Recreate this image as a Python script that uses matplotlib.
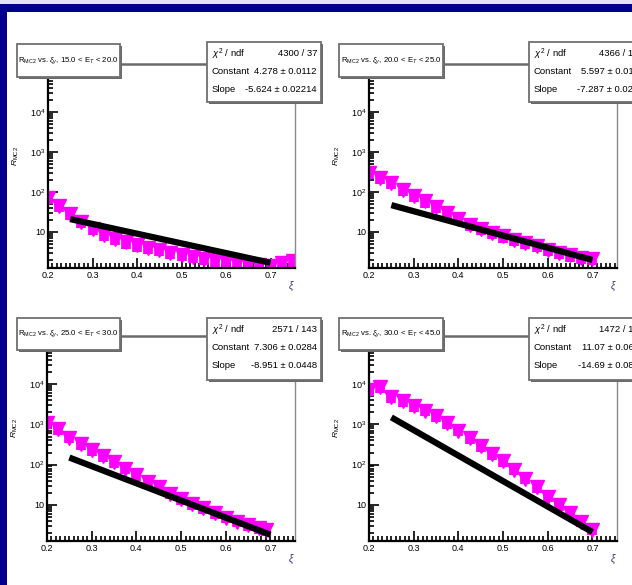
import math
import matplotlib
matplotlib.use("Agg")
import matplotlib.pyplot as plt
from matplotlib.patches import Rectangle
from matplotlib.ticker import LogLocator, MultipleLocator, FuncFormatter, NullFormatter

W, H = 632, 585

# ---- data ----
xi_1 = [0.200, 0.225, 0.250, 0.275, 0.300, 0.325, 0.350, 0.375, 0.400, 0.425, 0.450, 0.475,
        0.500, 0.525, 0.550, 0.575, 0.600, 0.625, 0.650, 0.675, 0.700, 0.725, 0.750]
r_1 = [70, 45, 28, 18, 12, 8.5, 6.6, 5.5, 4.6, 4.0, 3.5, 3.0,
       2.7, 2.4, 2.15, 1.95, 1.8, 1.65, 1.55, 1.5, 1.45, 1.7, 1.9]

xi_2 = [0.200, 0.225, 0.250, 0.275, 0.300, 0.325, 0.350, 0.375, 0.400, 0.425, 0.450, 0.475,
        0.500, 0.525, 0.550, 0.575, 0.600, 0.625, 0.650, 0.675, 0.700]
r_2 = [300, 230, 170, 115, 80, 58, 42, 30, 21, 15, 12, 9.5,
       7.8, 6.4, 5.3, 4.4, 3.6, 3.0, 2.6, 2.3, 2.1]

xi_3 = [0.200, 0.225, 0.250, 0.275, 0.300, 0.325, 0.350, 0.375, 0.400, 0.425, 0.450, 0.475,
        0.500, 0.525, 0.550, 0.575, 0.600, 0.625, 0.650, 0.675, 0.690]
r_3 = [1100, 750, 470, 330, 230, 165, 115, 80, 55, 38, 27, 19,
       14, 10.5, 8.2, 6.3, 4.8, 3.8, 3.1, 2.6, 2.3]

xi_4 = [0.200, 0.225, 0.250, 0.275, 0.300, 0.325, 0.350, 0.375, 0.400, 0.425, 0.450, 0.475,
        0.500, 0.525, 0.550, 0.575, 0.600, 0.625, 0.650, 0.675, 0.700]
r_4 = [7000, 8500, 4800, 3800, 2900, 2200, 1600, 1100, 700, 450, 290, 185,
       120, 75, 45, 27, 16, 10, 6.2, 3.8, 2.4]

fit_x = [0.25, 0.70]
fit_1 = [21, 1.7]
fit_2 = [47, 2.0]
fit_3 = [150, 1.8]
fit_4 = [1500, 2.1]

rel_err = [0.3, 0.3, 0.28, 0.28]

et_bins = ["15.0 < E$_{T}$ < 20.0", "20.0 < E$_{T}$ < 25.0",
           "25.0 < E$_{T}$ < 30.0", "30.0 < E$_{T}$ < 45.0"]
chi2_txt = ["4300 / 37", "4366 / 137", "2571 / 143", "1472 / 137"]
const_txt = ["4.278 \u00b1 0.0112", "5.597 \u00b1 0.0175", "7.306 \u00b1 0.0284", "11.07 \u00b1 0.0638"]
slope_txt = ["-5.624 \u00b1 0.02214", "-7.287 \u00b1 0.0277", "-8.951 \u00b1 0.0448", "-14.69 \u00b1 0.0838"]

# ---- style ----
plt.rcParams["font.family"] = ["Liberation Sans", "DejaVu Sans"]
plt.rcParams["mathtext.fontset"] = "custom"
plt.rcParams["mathtext.rm"] = "Liberation Sans"
plt.rcParams["mathtext.it"] = "Liberation Sans:italic"

navy = "#00008c"
magenta = "#ff00ff"

fig = plt.figure(figsize=(W / 100, H / 100), dpi=100)
fig.patch.set_facecolor("white")


def rect_px(l, t, r, b):
    return [l / W, 1 - b / H, (r - l) / W, (b - t) / H]


def box_px(l, t, r, b):
    # ROOT-like pave with a small shadow
    fig.add_artist(Rectangle(((l + 2) / W, 1 - (b + 2) / H), (r - l) / W, (b - t) / H,
                             transform=fig.transFigure, fc="#6a6a6a", ec="none", zorder=4))
    fig.add_artist(Rectangle((l / W, 1 - b / H), (r - l) / W, (b - t) / H,
                             transform=fig.transFigure, fc="white", ec="#707070",
                             lw=1.3, zorder=5))


def ytick_fmt(v, pos):
    e = int(round(math.log10(v)))
    return "10" if e == 1 else r"$10^{%d}$" % e


panels = [
    (rect_px(48, 64, 295, 268), xi_1, r_1, fit_1),
    (rect_px(369, 64, 617, 268), xi_2, r_2, fit_2),
    (rect_px(47, 336, 295, 541), xi_3, r_3, fit_3),
    (rect_px(369, 336, 617, 541), xi_4, r_4, fit_4),
]

for i, (pos, xs, ys, fy) in enumerate(panels):
    ax = fig.add_axes(pos)
    ax.set_yscale("log")
    ax.set_xlim(0.2, 0.755)
    ax.set_ylim(10 ** 0.1, 10 ** 5.2)
    err_lo = [v * rel_err[i] for v in ys]
    err_hi = [v * rel_err[i] * 1.3 for v in ys]
    ax.errorbar(xs, ys, yerr=[err_lo, err_hi], fmt="v", color=magenta, ms=10.5,
                mec=magenta, elinewidth=7, capsize=0, zorder=2)
    ax.plot(fit_x, fy, color="black", lw=4.5, solid_capstyle="butt", zorder=3)

    ax.xaxis.set_major_locator(MultipleLocator(0.1))
    ax.xaxis.set_minor_locator(MultipleLocator(0.01))
    ax.yaxis.set_major_locator(LogLocator(base=10, numticks=10))
    ax.yaxis.set_minor_locator(LogLocator(base=10, subs=range(2, 10), numticks=20))
    ax.yaxis.set_major_formatter(FuncFormatter(ytick_fmt))
    ax.yaxis.set_minor_formatter(NullFormatter())
    ax.tick_params(which="both", direction="in", top=False, right=False,
                   labelsize=6.5, width=1.2, color="black")
    ax.tick_params(which="major", length=7, pad=2)
    ax.tick_params(which="minor", length=3.5)
    for s in ("left", "bottom"):
        ax.spines[s].set_linewidth(1.6)
        ax.spines[s].set_color("black")
    ax.spines["top"].set_linewidth(1.8)
    ax.spines["top"].set_color("#6a6a6a")
    ax.spines["right"].set_linewidth(1.0)
    ax.spines["right"].set_color("#8a8a8a")
    ax.set_ylabel(r"$R_{\rm MC2}$", fontsize=6, labelpad=1)
    ax.yaxis.set_label_coords(-0.11, 0.55)
    ax.text(1.0, -0.055, r"$\xi$", transform=ax.transAxes, fontsize=7,
            ha="right", va="top", color="#303080")

# title and stats panes
title_boxes = [(17, 44, 120, 77), (339, 44, 443, 77), (17, 318, 120, 350), (339, 318, 443, 350)]
stat_boxes = [(207, 42, 321, 102), (529, 42, 648, 102), (207, 318, 321, 380), (529, 318, 648, 380)]

for i in range(4):
    l, t, r, b = title_boxes[i]
    box_px(l, t, r, b)
    fig.text((l + r) / 2 / W, 1 - (t + b) / 2 / H,
             r"R$_{\rm MC2}$ vs. $\xi_{\gamma}$, " + et_bins[i],
             ha="center", va="center", fontsize=5.6, zorder=6)
    l, t, r, b = stat_boxes[i]
    box_px(l, t, r, b)
    rows = [(r"$\chi^{2}$ / ndf", chi2_txt[i]), ("Constant", const_txt[i]), ("Slope", slope_txt[i])]
    for k, (lab, val) in enumerate(rows):
        yy = 1 - (t + 12 + 18 * k) / H
        fig.text((l + 5) / W, yy, lab, ha="left", va="center", fontsize=6.8, zorder=6)
        fig.text((r - 4) / W, yy, val, ha="right", va="center", fontsize=6.8, zorder=6)

# canvas border
fig.add_artist(Rectangle((0, 1 - 4 / H), 1, 4 / H, transform=fig.transFigure,
                         fc="#e4e4f6", ec="none", zorder=10))
fig.add_artist(Rectangle((0, 1 - 12 / H), 1, 8 / H, transform=fig.transFigure,
                         fc=navy, ec="none", zorder=10))
fig.add_artist(Rectangle((0, 0), 7 / W, 1 - 4 / H, transform=fig.transFigure,
                         fc=navy, ec="none", zorder=10))

fig.savefig("out.png", dpi=100)
